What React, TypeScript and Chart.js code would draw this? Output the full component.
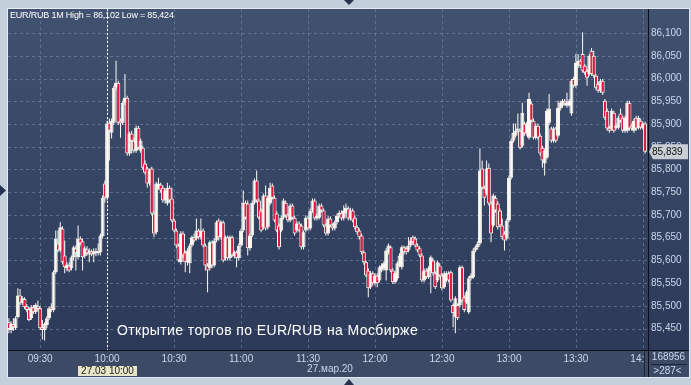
import React, { useEffect, useRef } from 'react';
import { Chart, registerables } from 'chart.js';

Chart.register(...registerables);

const SYMBOL = 'EUR/RUB';
const PERIOD = '1M';
const START_MINUTE = 556; // 09:16, one candle per minute
const CURSOR_MINUTE = 600; // 10:00
const CURSOR_LABEL = '27.03 10:00';
const DATE_LABEL = '27.мар.20';
const VOLUME_LABEL = '168956';
const COUNT_LABEL = '>287<';
const NOTE = 'Открытие торгов по EUR/RUB на Мосбирже';

const X_TICKS = [570, 600, 630, 660, 690, 720, 750, 780, 810, 840];
const Y_TICKS = [85.45, 85.5, 85.55, 85.6, 85.65, 85.7, 85.75, 85.8, 85.85, 85.9, 85.95, 86.0, 86.05, 86.1];

const OPEN = [
  85.464, 85.447, 85.460, 85.451, 85.475, 85.523, 85.506, 85.515, 85.499, 85.493,
  85.473, 85.497, 85.486, 85.499, 85.495, 85.453, 85.447, 85.458, 85.473, 85.497,
  85.491, 85.574, 85.637, 85.622, 85.670, 85.611, 85.583, 85.589, 85.583, 85.607,
  85.627, 85.607, 85.648, 85.642, 85.609, 85.624, 85.613, 85.620, 85.613, 85.620,
  85.616, 85.618, 85.653, 85.769, 85.738, 85.903, 85.881, 85.903, 85.980, 85.991,
  85.907, 85.903, 85.947, 85.958, 85.835, 85.879, 85.863, 85.841, 85.892, 85.841,
  85.848, 85.813, 85.802, 85.769, 85.802, 85.703, 85.662, 85.760, 85.767, 85.760,
  85.732, 85.725, 85.760, 85.736, 85.688, 85.666, 85.633, 85.596, 85.659, 85.618,
  85.596, 85.594, 85.633, 85.651, 85.648, 85.666, 85.651, 85.666, 85.633, 85.589,
  85.583, 85.640, 85.589, 85.644, 85.688, 85.651, 85.684, 85.605, 85.651, 85.605,
  85.651, 85.609, 85.618, 85.605, 85.633, 85.666, 85.727, 85.725, 85.627, 85.655,
  85.727, 85.776, 85.732, 85.710, 85.673, 85.743, 85.673, 85.725, 85.765, 85.738,
  85.703, 85.677, 85.666, 85.694, 85.727, 85.699, 85.688, 85.721, 85.694, 85.666,
  85.681, 85.677, 85.629, 85.666, 85.694, 85.670, 85.710, 85.732, 85.692, 85.694,
  85.721, 85.710, 85.677, 85.659, 85.692, 85.677, 85.670, 85.684, 85.699, 85.705,
  85.692, 85.705, 85.714, 85.692, 85.710, 85.694, 85.673, 85.666, 85.655, 85.618,
  85.596, 85.578, 85.541, 85.572, 85.550, 85.567, 85.556, 85.578, 85.583, 85.578,
  85.618, 85.629, 85.578, 85.552, 85.561, 85.589, 85.585, 85.629, 85.627, 85.622,
  85.633, 85.651, 85.648, 85.633, 85.627, 85.611, 85.556, 85.578, 85.563, 85.578,
  85.600, 85.572, 85.556, 85.589, 85.567, 85.541, 85.556, 85.572, 85.574, 85.502,
  85.475, 85.502, 85.502, 85.585, 85.519, 85.508, 85.486, 85.561, 85.563, 85.622,
  85.629, 85.637, 85.802, 85.760, 85.747, 85.804, 85.725, 85.677, 85.738, 85.725,
  85.710, 85.677, 85.659, 85.648, 85.688, 85.782, 85.863, 85.874, 85.885, 85.885,
  85.852, 85.901, 85.879, 85.870, 85.945, 85.907, 85.870, 85.896, 85.874, 85.848,
  85.813, 85.826, 85.903, 85.890, 85.863, 85.890, 85.874, 85.934, 85.940, 85.951,
  85.940, 85.942, 85.923, 85.999, 85.984, 86.028, 86.039, 86.054, 86.028, 86.017,
  86.010, 86.061, 86.050, 86.006, 85.988, 85.973, 85.995, 85.951, 85.929, 85.892,
  85.890, 85.925, 85.892, 85.892, 85.923, 85.914, 85.885, 85.885, 85.947, 85.896,
  85.885, 85.914, 85.892, 85.907, 85.892, 85.901,
];

const HIGH = [
  85.473, 85.466, 85.473, 85.477, 85.539, 85.537, 85.521, 85.519, 85.504, 85.497,
  85.502, 85.502, 85.506, 85.512, 85.499, 85.469, 85.464, 85.477, 85.499, 85.506,
  85.578, 85.666, 85.666, 85.684, 85.675, 85.644, 85.596, 85.596, 85.611, 85.633,
  85.633, 85.677, 85.653, 85.648, 85.631, 85.631, 85.627, 85.624, 85.627, 85.627,
  85.637, 85.659, 85.743, 85.776, 85.907, 85.912, 85.912, 85.984, 86.039, 85.995,
  85.912, 85.951, 86.010, 85.962, 85.883, 85.885, 85.870, 85.896, 85.896, 85.868,
  85.852, 85.820, 85.806, 85.802, 85.806, 85.708, 85.773, 85.782, 85.771, 85.765,
  85.758, 85.771, 85.765, 85.760, 85.692, 85.670, 85.637, 85.664, 85.664, 85.622,
  85.627, 85.637, 85.655, 85.659, 85.692, 85.670, 85.692, 85.670, 85.637, 85.594,
  85.644, 85.644, 85.648, 85.688, 85.692, 85.688, 85.688, 85.655, 85.655, 85.655,
  85.655, 85.622, 85.622, 85.637, 85.670, 85.754, 85.732, 85.732, 85.659, 85.732,
  85.780, 85.798, 85.736, 85.714, 85.747, 85.765, 85.743, 85.771, 85.769, 85.743,
  85.708, 85.681, 85.699, 85.736, 85.732, 85.703, 85.725, 85.725, 85.699, 85.686,
  85.686, 85.681, 85.666, 85.699, 85.699, 85.714, 85.736, 85.736, 85.703, 85.725,
  85.725, 85.714, 85.681, 85.697, 85.697, 85.681, 85.688, 85.703, 85.710, 85.710,
  85.721, 85.725, 85.719, 85.716, 85.714, 85.699, 85.677, 85.670, 85.659, 85.622,
  85.600, 85.583, 85.576, 85.576, 85.572, 85.572, 85.589, 85.594, 85.598, 85.627,
  85.637, 85.633, 85.583, 85.576, 85.598, 85.616, 85.633, 85.633, 85.631, 85.651,
  85.651, 85.655, 85.653, 85.637, 85.631, 85.616, 85.583, 85.583, 85.587, 85.611,
  85.605, 85.576, 85.600, 85.594, 85.572, 85.576, 85.576, 85.576, 85.578, 85.506,
  85.521, 85.506, 85.589, 85.589, 85.523, 85.534, 85.565, 85.572, 85.627, 85.633,
  85.642, 85.846, 85.820, 85.765, 85.820, 85.813, 85.730, 85.747, 85.743, 85.730,
  85.714, 85.692, 85.664, 85.692, 85.787, 85.868, 85.901, 85.901, 85.923, 85.890,
  85.947, 85.905, 85.905, 85.969, 85.949, 85.912, 85.901, 85.901, 85.879, 85.852,
  85.846, 85.934, 85.966, 85.894, 85.894, 85.894, 85.951, 85.951, 85.955, 85.955,
  85.969, 85.955, 85.999, 86.004, 86.054, 86.054, 86.043, 86.102, 86.032, 86.021,
  86.054, 86.067, 86.061, 86.010, 85.993, 85.999, 85.999, 85.955, 85.934, 85.896,
  85.934, 85.929, 85.901, 85.918, 85.934, 85.918, 85.918, 85.951, 85.951, 85.901,
  85.912, 85.918, 85.918, 85.912, 85.905, 85.905,
];

const LOW = [
  85.440, 85.440, 85.445, 85.447, 85.473, 85.502, 85.502, 85.493, 85.486, 85.466,
  85.469, 85.482, 85.482, 85.488, 85.447, 85.426, 85.424, 85.451, 85.469, 85.486,
  85.486, 85.570, 85.618, 85.618, 85.591, 85.572, 85.576, 85.574, 85.578, 85.600,
  85.578, 85.602, 85.633, 85.578, 85.605, 85.611, 85.596, 85.609, 85.596, 85.609,
  85.611, 85.611, 85.648, 85.727, 85.732, 85.820, 85.868, 85.898, 85.973, 85.898,
  85.870, 85.898, 85.942, 85.830, 85.830, 85.835, 85.837, 85.837, 85.844, 85.837,
  85.800, 85.789, 85.760, 85.765, 85.699, 85.651, 85.657, 85.756, 85.749, 85.727,
  85.725, 85.721, 85.727, 85.684, 85.662, 85.627, 85.596, 85.591, 85.605, 85.574,
  85.589, 85.572, 85.629, 85.640, 85.644, 85.646, 85.646, 85.629, 85.578, 85.530,
  85.578, 85.583, 85.585, 85.640, 85.644, 85.646, 85.596, 85.600, 85.600, 85.600,
  85.607, 85.605, 85.585, 85.600, 85.629, 85.662, 85.690, 85.611, 85.622, 85.651,
  85.723, 85.727, 85.690, 85.662, 85.668, 85.666, 85.668, 85.721, 85.734, 85.684,
  85.662, 85.624, 85.662, 85.690, 85.694, 85.684, 85.684, 85.690, 85.655, 85.662,
  85.662, 85.624, 85.624, 85.662, 85.666, 85.666, 85.705, 85.688, 85.688, 85.690,
  85.705, 85.673, 85.655, 85.655, 85.673, 85.666, 85.666, 85.679, 85.694, 85.688,
  85.688, 85.701, 85.688, 85.688, 85.684, 85.668, 85.657, 85.646, 85.613, 85.591,
  85.563, 85.519, 85.537, 85.545, 85.545, 85.541, 85.552, 85.574, 85.578, 85.556,
  85.613, 85.574, 85.548, 85.548, 85.556, 85.585, 85.580, 85.613, 85.613, 85.618,
  85.629, 85.635, 85.629, 85.618, 85.607, 85.552, 85.552, 85.559, 85.559, 85.528,
  85.567, 85.537, 85.552, 85.563, 85.534, 85.537, 85.552, 85.552, 85.508, 85.453,
  85.440, 85.469, 85.497, 85.508, 85.486, 85.504, 85.482, 85.556, 85.559, 85.618,
  85.624, 85.633, 85.756, 85.721, 85.743, 85.721, 85.640, 85.673, 85.705, 85.668,
  85.673, 85.646, 85.622, 85.644, 85.684, 85.778, 85.859, 85.870, 85.881, 85.844,
  85.848, 85.874, 85.874, 85.866, 85.903, 85.866, 85.866, 85.866, 85.830, 85.804,
  85.787, 85.822, 85.898, 85.859, 85.859, 85.859, 85.870, 85.929, 85.936, 85.940,
  85.936, 85.938, 85.918, 85.980, 85.980, 86.023, 86.023, 86.013, 86.008, 85.984,
  86.006, 86.006, 86.002, 85.975, 85.969, 85.969, 85.964, 85.909, 85.885, 85.881,
  85.885, 85.881, 85.888, 85.888, 85.903, 85.881, 85.881, 85.881, 85.885, 85.885,
  85.881, 85.885, 85.888, 85.888, 85.888, 85.835,
];

const CLOSE = [
  85.449, 85.460, 85.453, 85.473, 85.523, 85.506, 85.517, 85.497, 85.491, 85.469,
  85.497, 85.486, 85.502, 85.493, 85.451, 85.447, 85.460, 85.473, 85.495, 85.491,
  85.574, 85.648, 85.622, 85.673, 85.596, 85.585, 85.591, 85.578, 85.607, 85.629,
  85.616, 85.648, 85.637, 85.607, 85.627, 85.616, 85.620, 85.613, 85.620, 85.616,
  85.620, 85.655, 85.738, 85.738, 85.901, 85.885, 85.907, 85.980, 85.991, 85.903,
  85.901, 85.947, 85.958, 85.835, 85.879, 85.863, 85.841, 85.892, 85.848, 85.863,
  85.804, 85.793, 85.769, 85.798, 85.703, 85.659, 85.769, 85.769, 85.754, 85.732,
  85.754, 85.760, 85.732, 85.688, 85.666, 85.633, 85.600, 85.659, 85.611, 85.596,
  85.622, 85.633, 85.651, 85.644, 85.666, 85.651, 85.666, 85.633, 85.589, 85.578,
  85.640, 85.589, 85.644, 85.684, 85.651, 85.684, 85.600, 85.651, 85.605, 85.651,
  85.611, 85.618, 85.605, 85.633, 85.666, 85.727, 85.694, 85.627, 85.655, 85.727,
  85.776, 85.732, 85.694, 85.666, 85.743, 85.670, 85.738, 85.760, 85.738, 85.688,
  85.666, 85.629, 85.694, 85.732, 85.699, 85.688, 85.721, 85.694, 85.659, 85.681,
  85.666, 85.629, 85.662, 85.694, 85.670, 85.710, 85.732, 85.692, 85.699, 85.721,
  85.710, 85.677, 85.659, 85.692, 85.677, 85.670, 85.684, 85.699, 85.705, 85.692,
  85.710, 85.716, 85.692, 85.710, 85.688, 85.673, 85.662, 85.651, 85.618, 85.596,
  85.567, 85.539, 85.572, 85.550, 85.567, 85.550, 85.585, 85.589, 85.594, 85.622,
  85.633, 85.578, 85.552, 85.572, 85.594, 85.611, 85.629, 85.618, 85.618, 85.633,
  85.644, 85.640, 85.633, 85.622, 85.611, 85.556, 85.578, 85.563, 85.583, 85.607,
  85.572, 85.541, 85.596, 85.567, 85.539, 85.572, 85.572, 85.556, 85.512, 85.484,
  85.517, 85.473, 85.585, 85.512, 85.491, 85.530, 85.561, 85.567, 85.622, 85.629,
  85.637, 85.798, 85.760, 85.738, 85.802, 85.725, 85.659, 85.743, 85.710, 85.673,
  85.677, 85.651, 85.644, 85.688, 85.782, 85.863, 85.881, 85.885, 85.890, 85.848,
  85.925, 85.879, 85.901, 85.955, 85.907, 85.870, 85.896, 85.870, 85.835, 85.820,
  85.841, 85.929, 85.934, 85.863, 85.890, 85.863, 85.936, 85.947, 85.951, 85.945,
  85.947, 85.951, 85.995, 85.984, 86.034, 86.039, 86.028, 86.017, 86.013, 86.002,
  86.050, 86.010, 86.006, 85.980, 85.973, 85.995, 85.969, 85.914, 85.890, 85.885,
  85.929, 85.885, 85.896, 85.914, 85.907, 85.885, 85.914, 85.947, 85.890, 85.890,
  85.907, 85.890, 85.914, 85.892, 85.901, 85.839,
];

const COLORS = {
  frame: '#c3cfdb',
  frameEdge: '#e4ebf2',
  plotTop: '#415170',
  plotBottom: '#2c3958',
  strip: '#3c4a66',
  separator: '#0b0f18',
  grid: 'rgba(130,150,185,0.5)',
  label: '#cad7eb',
  red: '#e3173e',
  white: '#fffaf3',
  arrow: '#27324e',
  priceBox: '#c9cdd4',
  cursorBox: '#e8e5c8',
};

const FAMILY = '"Liberation Sans", Arial, sans-serif';
const FONT = `10px ${FAMILY}`;

const fmtPrice = (v: number) => v.toFixed(3).replace('.', ',');
const fmtTime = (m: number) => {
  const h = Math.floor(m / 60);
  const mm = Math.round(m - h * 60);
  return `${String(h).padStart(2, '0')}:${String(mm).padStart(2, '0')}`;
};

export default function App() {
  const ref = useRef<HTMLCanvasElement>(null);

  useEffect(() => {
    const canvas = ref.current!;
    const bodies = OPEN.map((o, i) => ({ x: START_MINUTE + i, y: [o, CLOSE[i]] }));
    const wicks = LOW.map((l, i) => ({ x: START_MINUTE + i, y: [l, HIGH[i]] }));
    const header = `${SYMBOL} ${PERIOD} High = ${fmtPrice(Math.max(...HIGH))} Low = ${fmtPrice(Math.min(...LOW))}`;

    const framePlugin = {
      id: 'frame',
      beforeDraw(chart: any) {
        const { ctx, chartArea: a, width, height } = chart;
        const R = a.right + 41;
        const B = a.bottom + 27;
        ctx.save();
        ctx.fillStyle = COLORS.frame;
        ctx.fillRect(0, 0, width, height);
        ctx.fillStyle = COLORS.frameEdge;
        ctx.fillRect(a.left - 1, a.top - 1, R - a.left + 2, B - a.top + 2);
        const g = ctx.createLinearGradient(0, a.top, 0, a.bottom);
        g.addColorStop(0, COLORS.plotTop);
        g.addColorStop(1, COLORS.plotBottom);
        ctx.fillStyle = g;
        ctx.fillRect(a.left, a.top, R - a.left, a.bottom - a.top);
        ctx.fillStyle = COLORS.strip;
        ctx.fillRect(a.left, a.bottom, R - a.left, B - a.bottom);
        ctx.restore();
      },
      beforeDatasetsDraw(chart: any) {
        const { ctx, chartArea: a, scales } = chart;
        ctx.save();
        ctx.strokeStyle = COLORS.grid;
        ctx.lineWidth = 1;
        ctx.setLineDash([3, 3]);
        ctx.beginPath();
        for (const v of Y_TICKS) {
          const y = Math.round(scales.y.getPixelForValue(v)) + 0.5;
          ctx.moveTo(a.left, y);
          ctx.lineTo(a.right, y);
        }
        for (const v of X_TICKS) {
          const x = Math.round(scales.x.getPixelForValue(v)) + 0.5;
          ctx.moveTo(x, a.top);
          ctx.lineTo(x, a.bottom);
        }
        ctx.stroke();
        ctx.restore();
      },
      afterDraw(chart: any) {
        const { ctx, chartArea: a, scales } = chart;
        const R = a.right + 41;
        const B = a.bottom + 27;
        ctx.save();
        // cursor line at 10:00
        const cx = Math.round(scales.x.getPixelForValue(CURSOR_MINUTE)) + 0.5;
        ctx.strokeStyle = '#ffffff';
        ctx.lineWidth = 1;
        ctx.setLineDash([2, 2]);
        ctx.beginPath();
        ctx.moveTo(cx, a.top);
        ctx.lineTo(cx, a.bottom);
        ctx.stroke();
        ctx.setLineDash([]);

        // header
        ctx.font = `9px ${FAMILY}`;
        ctx.fillStyle = '#ffffff';
        ctx.textAlign = 'left';
        ctx.textBaseline = 'middle';
        ctx.letterSpacing = '-0.2px';
        ctx.fillText(header, a.left + 2, a.top + 7);

        // note
        ctx.font = `14px ${FAMILY}`;
        ctx.letterSpacing = '0.4px';
        ctx.fillText(NOTE, 117, 331);
        ctx.letterSpacing = '0px';

        // bottom right cell
        ctx.fillStyle = COLORS.strip;
        ctx.fillRect(a.right - 4, a.bottom + 1, R - a.right + 4, B - a.bottom - 1);
        ctx.strokeStyle = '#1c2436';
        ctx.beginPath();
        ctx.moveTo(a.right - 3.5, a.bottom);
        ctx.lineTo(a.right - 3.5, B);
        ctx.moveTo(a.right + 3, a.bottom + 14.5);
        ctx.lineTo(R - 2, a.bottom + 14.5);
        ctx.stroke();
        ctx.font = FONT;
        ctx.fillStyle = COLORS.label;
        ctx.textAlign = 'center';
        ctx.fillText(VOLUME_LABEL, (a.right + R) / 2, a.bottom + 7.5);
        ctx.fillText(COUNT_LABEL, (a.right + R) / 2 - 1, a.bottom + 21);

        // date label
        ctx.fillText(DATE_LABEL, 330, a.bottom + 19);

        // cursor label box
        const tw = ctx.measureText(CURSOR_LABEL).width;
        ctx.fillStyle = COLORS.cursorBox;
        ctx.fillRect(Math.round(cx - tw / 2 - 3), a.bottom + 16, Math.round(tw + 6), 10);
        ctx.fillStyle = '#1a1a1a';
        ctx.fillText(CURSOR_LABEL, cx, a.bottom + 21);

        // separators
        ctx.strokeStyle = COLORS.separator;
        ctx.beginPath();
        ctx.moveTo(a.left, a.bottom + 0.5);
        ctx.lineTo(R, a.bottom + 0.5);
        ctx.moveTo(a.right + 0.5, a.top);
        ctx.lineTo(a.right + 0.5, B);
        ctx.stroke();

        // price box
        const py = scales.y.getPixelForValue(CLOSE[CLOSE.length - 1]);
        ctx.fillStyle = COLORS.priceBox;
        ctx.beginPath();
        ctx.moveTo(a.right + 1, py);
        ctx.lineTo(a.right + 5, py - 7.5);
        ctx.lineTo(R - 1, py - 7.5);
        ctx.lineTo(R - 1, py + 7.5);
        ctx.lineTo(a.right + 5, py + 7.5);
        ctx.closePath();
        ctx.fill();
        ctx.fillStyle = '#111111';
        ctx.textAlign = 'left';
        ctx.fillText(fmtPrice(CLOSE[CLOSE.length - 1]), a.right + 4, py + 0.5);

        // frame arrows
        ctx.fillStyle = COLORS.arrow;
        ctx.beginPath();
        ctx.moveTo(344, 0); ctx.lineTo(354, 0); ctx.lineTo(349, 5); ctx.closePath();
        ctx.moveTo(344, 385); ctx.lineTo(354, 385); ctx.lineTo(349, 379); ctx.closePath();
        ctx.moveTo(0, 185); ctx.lineTo(0, 196); ctx.lineTo(6, 190.5); ctx.closePath();
        ctx.fill();
        ctx.restore();
      },
    };

    const chart = new Chart(canvas, {
      type: 'bar',
      data: {
        datasets: [
          {
            data: bodies as any,
            order: 0,
            grouped: false,
            barThickness: 4,
            backgroundColor: (c: any) => (CLOSE[c.dataIndex] < OPEN[c.dataIndex] ? COLORS.red : COLORS.white),
            borderColor: COLORS.white,
            borderWidth: 1,
            borderSkipped: false,
            inflateAmount: 0,
          } as any,
          {
            data: wicks as any,
            order: 1,
            grouped: false,
            barThickness: 1,
            backgroundColor: COLORS.white,
            borderWidth: 0,
            inflateAmount: 0,
          } as any,
        ],
      },
      options: {
        responsive: false,
        animation: false,
        devicePixelRatio: 1,
        layout: { padding: { left: 8, top: 8, right: 3, bottom: 9 } },
        plugins: { legend: { display: false }, tooltip: { enabled: false }, title: { display: false } },
        scales: {
          x: {
            type: 'linear',
            position: 'bottom',
            min: 555.6,
            max: 842.3,
            offset: false,
            grid: { display: false, drawTicks: false },
            border: { display: false },
            afterBuildTicks: (s: any) => { s.ticks = X_TICKS.map((v) => ({ value: v })); },
            afterFit: (s: any) => { s.height = 26; },
            ticks: {
              color: COLORS.label,
              font: { family: FAMILY, size: 10 },
              padding: 3,
              maxRotation: 0,
              autoSkip: false,
              callback: (v: any) => fmtTime(Number(v)),
            },
          },
          y: {
            type: 'linear',
            position: 'right',
            min: 85.403,
            max: 86.153,
            beginAtZero: false,
            grid: { display: false, drawTicks: false },
            border: { display: false },
            afterBuildTicks: (s: any) => { s.ticks = Y_TICKS.map((v) => ({ value: v })); },
            afterFit: (s: any) => { s.width = 40; },
            ticks: {
              color: COLORS.label,
              font: { family: FAMILY, size: 10 },
              padding: 3,
              autoSkip: false,
              callback: (v: any) => fmtPrice(Number(v)),
            },
          },
        },
      } as any,
      plugins: [framePlugin],
    });
    return () => chart.destroy();
  }, []);

  return (
    <div style={{ position: 'fixed', left: 0, top: 0, width: 691, height: 385 }}>
      <canvas ref={ref} width={691} height={385} style={{ display: 'block', width: 691, height: 385 }} />
    </div>
  );
}
